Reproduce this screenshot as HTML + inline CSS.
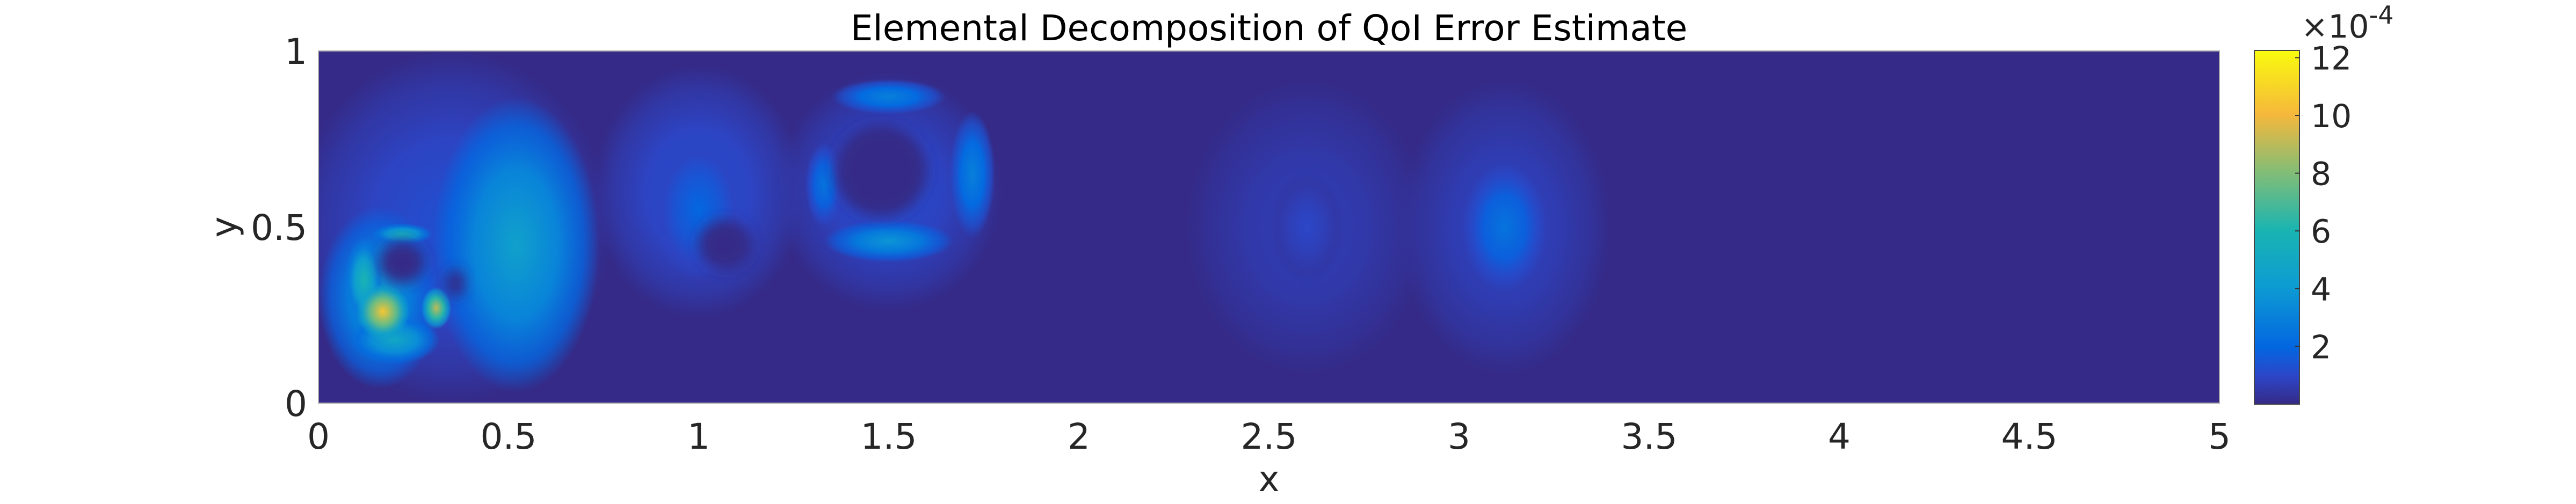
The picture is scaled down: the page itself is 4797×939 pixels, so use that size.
<!DOCTYPE html>
<html><head><meta charset="utf-8"><style>
html,body{margin:0;padding:0;background:#fff;}
svg text{font-family:"DejaVu Sans","Liberation Sans",sans-serif;fill:#262626;}
</style></head><body>
<svg id="chart" width="4797" height="934" viewBox="0 0 4797 934" xmlns="http://www.w3.org/2000/svg">
<defs id="defs">
<linearGradient id="parula" x1="0" y1="1" x2="0" y2="0">
<stop offset="0" stop-color="#352a87"/><stop offset="0.08" stop-color="#2c46c8"/><stop offset="0.16" stop-color="#0366e1"/><stop offset="0.33" stop-color="#0d9bd3"/><stop offset="0.49" stop-color="#19b4b2"/><stop offset="0.65" stop-color="#7fbd78"/><stop offset="0.82" stop-color="#f6b83b"/><stop offset="1" stop-color="#f9fb0e"/>
</linearGradient>
<filter id="soft" x="-50%" y="-50%" width="200%" height="200%"><feGaussianBlur stdDeviation="12"/></filter>
<clipPath id="plotclip"><rect x="593" y="95" width="3540" height="656"/></clipPath>
</defs>
<text x="2363" y="75" font-size="66" text-anchor="middle" style="fill:#000">Elemental Decomposition of QoI Error Estimate</text>
<rect x="593" y="95" width="3540" height="656" fill="#352a87"/>
<g id="field" clip-path="url(#plotclip)"></g>
<rect x="593" y="95" width="3540" height="656" fill="none" stroke="#aaa" stroke-width="2"/>
<g id="xticks"></g>
<g id="yticks"></g>
<text x="2363" y="915" font-size="66" text-anchor="middle">x</text>
<text x="440" y="423" font-size="66" text-anchor="middle" transform="rotate(-90 440 423)">y</text>
<rect x="4198" y="94" width="84" height="659" fill="url(#parula)" stroke="#444" stroke-width="2"/>
<g id="cticks"></g>
<text x="4285" y="70" font-size="60">×10<tspan font-size="46" dy="-26">-4</tspan></text>
</svg>
<script>
const xTicks=[0,0.5,1,1.5,2,2.5,3,3.5,4,4.5,5];
const yTicks=[0,0.5,1];
const cTicks=[2,4,6,8,10,12];
const cMax=12.25;
// blobs: x, y, half-width, half-height (data units), value (x1e-4)
const blobX=[0.35,0.52,0.16,0.12,0.20,0.22,0.17,0.31,1.0,1.0,1.5,1.5,1.5,1.72,1.33,2.6,2.6,3.12,3.12];
const blobY=[0.50,0.45,0.30,0.35,0.18,0.48,0.26,0.27,0.60,0.55,0.60,0.87,0.46,0.65,0.62,0.50,0.50,0.50,0.50];
const blobW=[0.42,0.22,0.16,0.05,0.12,0.08,0.07,0.04,0.28,0.12,0.30,0.15,0.17,0.06,0.05,0.32,0.10,0.28,0.11];
const blobH=[0.50,0.42,0.26,0.12,0.07,0.03,0.08,0.06,0.36,0.2,0.34,0.05,0.06,0.18,0.12,0.42,0.16,0.42,0.18];
const blobV=[1.3,4.5,4.0,6.0,5.0,5.5,10.5,9.0,1.3,2.0,1.2,3.0,3.8,3.0,2.5,0.7,1.0,0.9,2.5];
// dark holes
const holeX=[0.22,0.36,1.07,1.48];
const holeY=[0.40,0.34,0.45,0.66];
const holeW=[0.06,0.025,0.07,0.12];
const holeH=[0.06,0.04,0.07,0.13];

const L=593,R=4133,T=95,B=751;
const sx=v=>L+v/5*(R-L);
const sy=v=>B-v*(B-T);
const cy=v=>753-v/cMax*(753-94);
const stops=[[0,[53,42,135]],[0.08,[44,70,200]],[0.16,[3,102,225]],[0.33,[13,155,211]],[0.49,[25,180,178]],[0.65,[127,189,120]],[0.82,[246,184,59]],[1,[249,251,14]]];
function col(v){let t=Math.max(0,Math.min(1,v/cMax));for(let i=1;i<stops.length;i++){if(t<=stops[i][0]){const a=stops[i-1],b=stops[i];const f=(t-a[0])/(b[0]-a[0]);return 'rgb('+a[1].map((c,k)=>Math.round(c+(b[1][k]-c)*f)).join(',')+')';}}return 'rgb(249,251,14)';}
const NS='http://www.w3.org/2000/svg';
const defs=document.getElementById('defs');
const field=document.getElementById('field');
const order=blobV.map((v,i)=>i).sort((a,b)=>blobV[a]-blobV[b]);
order.forEach(i=>{
  const g=document.createElementNS(NS,'radialGradient');g.setAttribute('id','g'+i);
  const c2=col(blobV[i]*0.45);
  g.innerHTML='<stop offset="0" stop-color="'+col(blobV[i])+'" stop-opacity="1"/><stop offset="0.5" stop-color="'+col(blobV[i]*0.7)+'" stop-opacity="1"/><stop offset="0.8" stop-color="'+c2+'" stop-opacity="0.75"/><stop offset="1" stop-color="'+c2+'" stop-opacity="0"/>';
  defs.appendChild(g);
  const e=document.createElementNS(NS,'ellipse');
  
  
  e.setAttribute('cx',sx(blobX[i]));e.setAttribute('cy',sy(blobY[i]));
  e.setAttribute('rx',blobW[i]/5*(R-L));e.setAttribute('ry',blobH[i]*(B-T));
  e.setAttribute('fill','url(#g'+i+')');field.appendChild(e);
});
holeX.forEach((x,i)=>{
  const e=document.createElementNS(NS,'ellipse');
  
  
  e.setAttribute('cx',sx(x));e.setAttribute('cy',sy(holeY[i]));
  e.setAttribute('rx',holeW[i]/5*(R-L));e.setAttribute('ry',holeH[i]*(B-T));
  e.setAttribute('fill','#352a87');e.setAttribute('filter','url(#soft)');field.appendChild(e);
});
const xg=document.getElementById('xticks');
xTicks.forEach(v=>{
  const t=document.createElementNS(NS,'text');
  
  
  t.setAttribute('x',sx(v));t.setAttribute('y',836);t.setAttribute('font-size','66');t.setAttribute('text-anchor','middle');
  t.textContent=String(v);xg.appendChild(t);
});
const yg=document.getElementById('yticks');
yTicks.forEach(v=>{
  const t=document.createElementNS(NS,'text');
  
  
  t.setAttribute('x',572);t.setAttribute('y',sy(v)+24);t.setAttribute('font-size','66');t.setAttribute('text-anchor','end');
  t.textContent=String(v);yg.appendChild(t);
});
const cg=document.getElementById('cticks');
cTicks.forEach(v=>{
  const l=document.createElementNS(NS,'line');
  
  
  l.setAttribute('x1',4274);l.setAttribute('x2',4282);l.setAttribute('y1',cy(v));l.setAttribute('y2',cy(v));l.setAttribute('stroke','#333');l.setAttribute('stroke-width','2');cg.appendChild(l);
  const t=document.createElementNS(NS,'text');
  
  
  t.setAttribute('x',4303);t.setAttribute('y',cy(v)+22);t.setAttribute('font-size','60');
  t.textContent=String(v);cg.appendChild(t);
});
</script>
</body></html>
